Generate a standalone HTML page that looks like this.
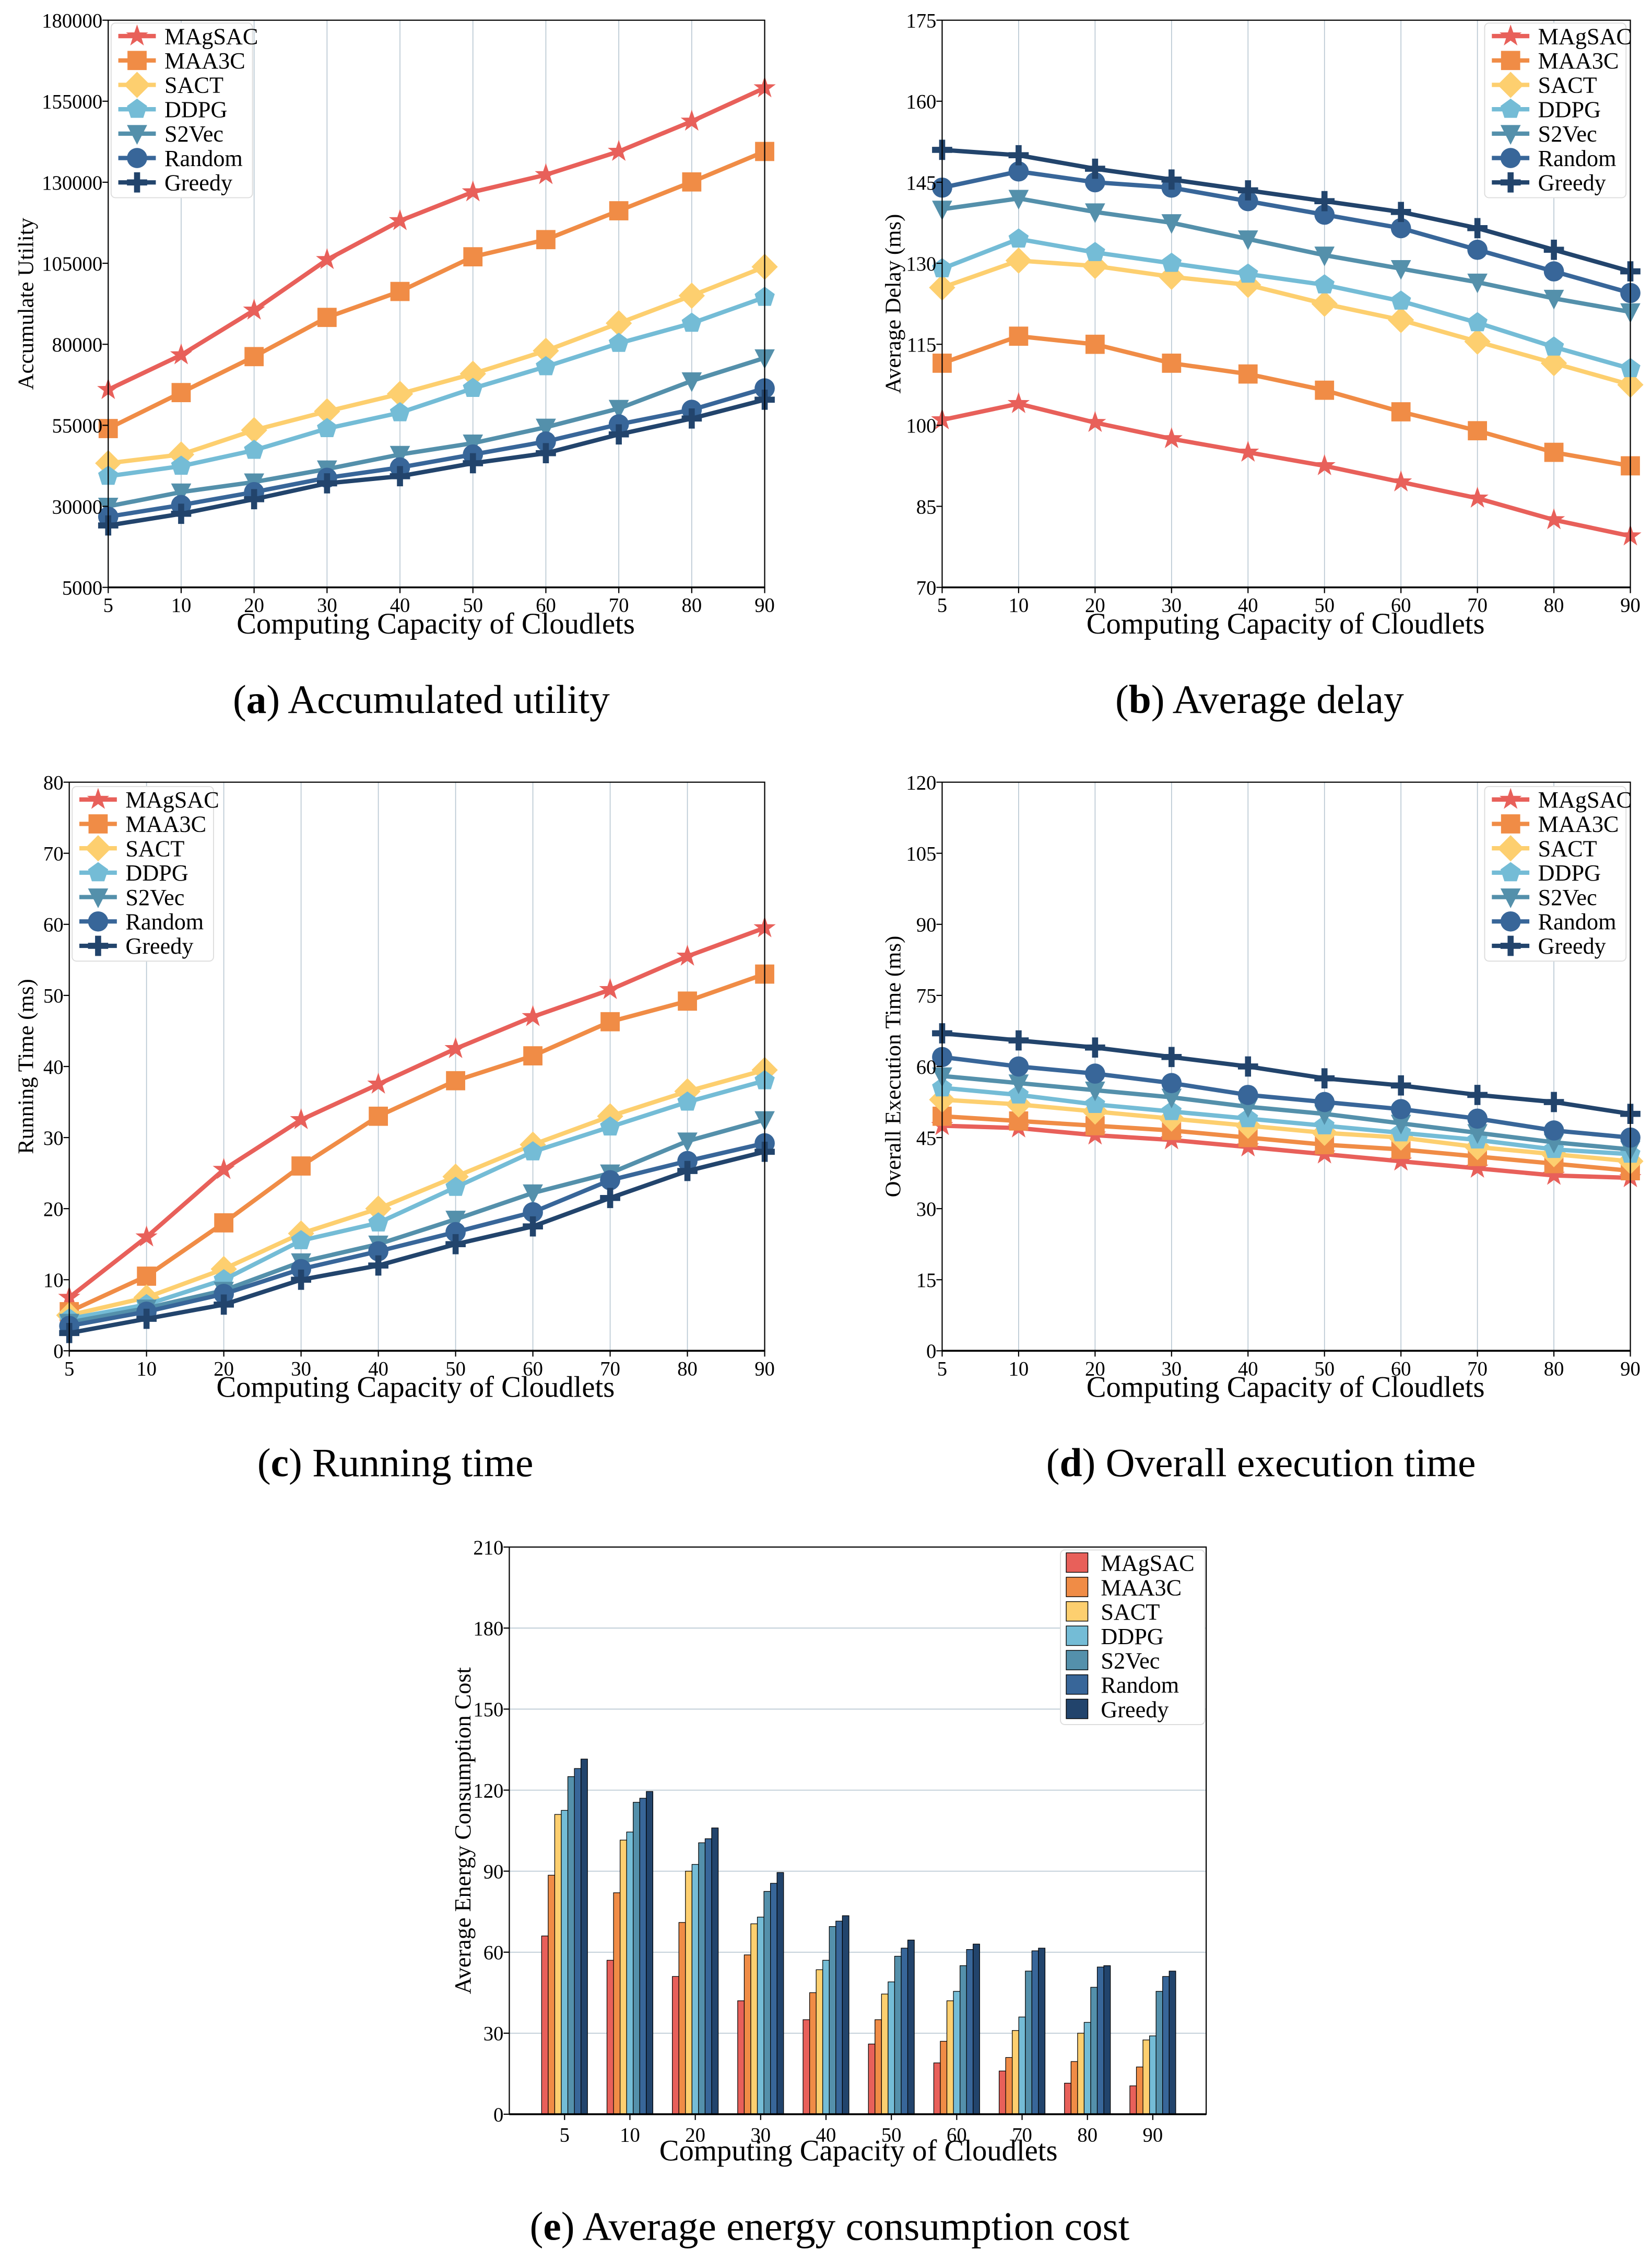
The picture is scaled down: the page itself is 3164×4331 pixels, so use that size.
<!DOCTYPE html>
<html><head><meta charset="utf-8">
<style>
html,body{margin:0;padding:0;background:#fff;}
svg{display:block;}
text{font-family:"Liberation Serif","DejaVu Serif",serif;fill:#000;}
</style></head>
<body>
<svg id="fig" xmlns="http://www.w3.org/2000/svg" width="3164" height="4331" viewBox="0 0 1145 1567.4" preserveAspectRatio="none"></svg>
<script>
// ---- data ----
const capacities = ["5","10","20","30","40","50","60","70","80","90"];
const seriesNames = ["MAgSAC","MAA3C","SACT","DDPG","S2Vec","Random","Greedy"];
const seriesColors = ["#e8605a","#f08c46","#fdcf6f","#74bcd6","#5490ab","#386699","#22446c"];

const utilMAgSAC = [66000,76700,90500,106100,118100,127000,132300,139500,148800,159100];
const utilMAA3C  = [54000,65100,76200,88300,96300,107000,112300,121200,130100,139500];
const utilSACT   = [43300,46000,53500,59300,64700,70900,78000,86500,95000,103900];
const utilDDPG   = [39300,42400,47300,54000,58900,66400,73100,80300,86500,94500];
const utilS2Vec  = [30000,34400,37500,41500,46000,49500,54400,60200,68700,75800];
const utilRandom = [26800,30400,34400,38800,42000,46000,50000,55300,59800,66400];
const utilGreedy = [24100,27700,32200,37100,39300,43300,46400,52200,57100,62900];
const utilTicks = [5000,30000,55000,80000,105000,130000,155000,180000];

const delayMAgSAC = [101,104,100.5,97.5,95,92.5,89.5,86.5,82.5,79.5];
const delayMAA3C  = [111.5,116.5,115,111.5,109.5,106.5,102.5,99,95,92.5];
const delaySACT   = [125.5,130.5,129.5,127.5,126,122.5,119.5,115.5,111.5,107.5];
const delayDDPG   = [129,134.5,132,130,128,126,123,119,114.5,110.5];
const delayS2Vec  = [140,142,139.5,137.5,134.5,131.5,129,126.5,123.5,121];
const delayRandom = [144,147,145,144,141.5,139,136.5,132.5,128.5,124.5];
const delayGreedy = [151,150,147.5,145.5,143.5,141.5,139.5,136.5,132.5,128.5];
const delayTicks = [70,85,100,115,130,145,160,175];

const runMAgSAC = [7.5,16,25.5,32.5,37.5,42.5,47,50.8,55.5,59.5];
const runMAA3C  = [5.5,10.5,18,26,33,38,41.5,46.3,49.2,53];
const runSACT   = [5,7.5,11.5,16.5,20,24.5,29,33,36.5,39.5];
const runDDPG   = [4.5,6.5,10,15.5,18,23,28,31.5,35,38];
const runS2Vec  = [4,6,8.5,12.5,15,18.5,22.2,25,29.5,32.5];
const runRandom = [3.5,5.5,8,11.5,14,16.7,19.5,24,26.7,29.2];
const runGreedy = [2.5,4.5,6.5,10,12,15,17.5,21.5,25.3,28];
const runTicks = [0,10,20,30,40,50,60,70,80];

const execMAgSAC = [47.5,47,45.5,44.5,43,41.5,40,38.5,37,36.5];
const execMAA3C  = [49.5,48.5,47.5,46.5,45,43.5,42.5,41,39.5,38];
const execSACT   = [53,52,50.5,49,47.5,46,45,43,41.5,40];
const execDDPG   = [55.5,54,52,50.5,49,47.5,46,44.5,42.5,41.5];
const execS2Vec  = [58,56.5,55,53.5,51.5,50,48,46,44,42.5];
const execRandom = [62,60,58.5,56.5,54,52.5,51,49,46.5,45];
const execGreedy = [67,65.5,64,62,60,57.5,56,54,52.5,50];
const execTicks = [0,15,30,45,60,75,90,105,120];

const energyMAgSAC = [66,57,51,42,35,26,19,16,11.5,10.5];
const energyMAA3C  = [88.5,82,71,59,45,35,27,21,19.5,17.5];
const energySACT   = [111,101.5,90,70.5,53.5,44.5,42,31,30,27.5];
const energyDDPG   = [112.5,104.5,92.5,73,57,49,45.5,36,34,29];
const energyS2Vec  = [125,115.5,100.5,82.5,69.5,58.5,55,53,47,45.5];
const energyRandom = [128,117,102,85.5,71.5,61.5,61,60.5,54.5,51];
const energyGreedy = [131.5,119.5,106,89.5,73.5,64.5,63,61.5,55,53];
const energyTicks = [0,30,60,90,120,150,180,210];

// ---- helpers ----
const NS = "http://www.w3.org/2000/svg";
const svg = document.getElementById("fig");
function mk(tag, attrs, parent){
  const e = document.createElementNS(NS, tag);
  for (const k in attrs) e.setAttribute(k, attrs[k]);
  (parent||svg).appendChild(e);
  return e;
}
function txt(s, x, y, size, anchor, parent, extra){
  const t = mk("text", Object.assign({x:x, y:y, "font-size":size, "text-anchor":anchor||"middle"}, extra||{}), parent);
  t.textContent = s;
  return t;
}
function marker(g, kind, cx, cy, color, r){
  let e;
  if (kind===0){
    let p=[]; for(let i=0;i<10;i++){const a=-Math.PI/2+i*Math.PI/5;const rr=i%2?r*0.45:r*1.15;p.push((cx+rr*Math.cos(a)).toFixed(2)+","+(cy+rr*Math.sin(a)).toFixed(2));}
    e = mk("polygon",{points:p.join(" "),fill:color},g);
  } else if (kind===1){
    e = mk("rect",{x:cx-r*0.95,y:cy-r*0.95,width:r*1.9,height:r*1.9,fill:color},g);
  } else if (kind===2){
    const d=r*1.3; e = mk("polygon",{points:`${cx},${cy-d} ${cx+d},${cy} ${cx},${cy+d} ${cx-d},${cy}`,fill:color},g);
  } else if (kind===3){
    let p=[]; for(let i=0;i<5;i++){const a=-Math.PI/2+i*2*Math.PI/5;p.push((cx+r*1.05*Math.cos(a)).toFixed(2)+","+(cy+r*1.05*Math.sin(a)).toFixed(2));}
    e = mk("polygon",{points:p.join(" "),fill:color},g);
  } else if (kind===4){
    e = mk("polygon",{points:`${cx-r},${cy-r*0.85} ${cx+r},${cy-r*0.85} ${cx},${cy+r*1.1}`,fill:color},g);
  } else if (kind===5){
    e = mk("circle",{cx:cx,cy:cy,r:r,fill:color},g);
  } else {
    e = mk("path",{d:`M${cx-r} ${cy}H${cx+r}M${cx} ${cy-r}V${cy+r}`,stroke:color,"stroke-width":r*0.6,fill:"none"},g);
  }
  return e;
}

function lineChart(cfg){
  const g = mk("g",{});
  
  
  const {x0,x1,y0,y1,ymin,ymax} = cfg;
  const xs = i => x0 + (x1-x0)*i/(capacities.length-1);
  const ys = v => y1 - (v-ymin)/(ymax-ymin)*(y1-y0);
  capacities.forEach((c,i)=>{
    const l = mk("line",{x1:xs(i),x2:xs(i),y1:y0,y2:y1,stroke:"#b8c7d2","stroke-width":0.6},g);
    
    
  });
  cfg.series.forEach((vals,si)=>{
    const sg = mk("g",{},g);
    
    
    const pts = vals.map((v,i)=>xs(i).toFixed(2)+","+ys(v).toFixed(2)).join(" ");
    mk("polyline",{points:pts,fill:"none",stroke:seriesColors[si],"stroke-width":3},sg);
    vals.forEach((v,i)=>{
      const m = marker(sg, si, xs(i), ys(v), seriesColors[si], 7);
      
      
    });
  });
  const fr = mk("rect",{x:x0,y:y0,width:x1-x0,height:y1-y0,fill:"none",stroke:"#000","stroke-width":0.8},g);
  
  
  mk("line",{x1:x0,x2:x1,y1:y1,y2:y1,stroke:"#000","stroke-width":1.3},g);
  cfg.ticks.forEach(t=>{
    mk("line",{x1:x0-4,x2:x0,y1:ys(t),y2:ys(t),stroke:"#000","stroke-width":0.8},g);
    const tl = txt(String(t), x0-4, ys(t)+5, 14, "end", g);
    
    
  });
  capacities.forEach((c,i)=>{
    mk("line",{x1:xs(i),x2:xs(i),y1:y1,y2:y1+4,stroke:"#000","stroke-width":0.8},g);
    const tl = txt(c, xs(i), y1+17, 14, "middle", g);
    
    
  });
  const xt = txt("Computing Capacity of Cloudlets", cfg.xtx, y1+32, 20.5, "middle", g);
  
  
  const yt = txt(cfg.ylabel, 0, 0, 15.5, "middle", g, {transform:`translate(${cfg.ylx},${(y0+y1)/2}) rotate(-90)`});
  
  
  legend(g, cfg.lx, cfg.ly, false);
  caption(g, cfg.cap, cfg.capText, cfg.capx, cfg.capy);
}

function legend(g, lx, ly, patches){
  const lg = mk("g",{},g);
  
  
  mk("rect",{x:lx,y:ly,width:patches?100:98,height:121,rx:3,fill:"#fff",stroke:"#ddd","stroke-width":0.7},lg);
  seriesNames.forEach((n,i)=>{
    const eg = mk("g",{},lg);
    
    
    const cy = ly+9+i*16.9;
    if (patches){
      mk("rect",{x:lx+4,y:cy-7,width:15,height:13.5,fill:seriesColors[i],stroke:"#000","stroke-width":0.5},eg);
      txt(n, lx+28, cy+5.5, 16, "start", eg);
    } else {
      mk("line",{x1:lx+5,x2:lx+31,y1:cy,y2:cy,stroke:seriesColors[i],"stroke-width":3},eg);
      marker(eg, i, lx+18, cy, seriesColors[i], 7);
      txt(n, lx+37, cy+5.5, 16, "start", eg);
    }
  });
}

function caption(g, letter, rest, cx, cy){
  const t = mk("text",{x:cx,y:cy,"font-size":28,"text-anchor":"middle"},g);
  
  
  const a = mk("tspan",{},t); a.textContent="(";
  const b = mk("tspan",{"font-weight":"bold"},t); b.textContent=letter;
  const c = mk("tspan",{},t); c.textContent=") "+rest;
}

lineChart({name:"chart-accumulated-utility",x0:75,x1:530,y0:14,y1:407,ymin:5000,ymax:180000,ticks:utilTicks,
  series:[utilMAgSAC,utilMAA3C,utilSACT,utilDDPG,utilS2Vec,utilRandom,utilGreedy],xtx:302,
  ylabel:"Accumulate Utility",ylx:23,lx:77,ly:16,cap:"a",capText:"Accumulated utility",capx:292,capy:494});
lineChart({name:"chart-average-delay",x0:653,x1:1130,y0:14,y1:407,ymin:70,ymax:175,ticks:delayTicks,
  series:[delayMAgSAC,delayMAA3C,delaySACT,delayDDPG,delayS2Vec,delayRandom,delayGreedy],xtx:891,
  ylabel:"Average Delay (ms)",ylx:624,lx:1029,ly:16,cap:"b",capText:"Average delay",capx:873,capy:494});
lineChart({name:"chart-running-time",x0:48,x1:530,y0:542,y1:936,ymin:0,ymax:80,ticks:runTicks,
  series:[runMAgSAC,runMAA3C,runSACT,runDDPG,runS2Vec,runRandom,runGreedy],xtx:288,
  ylabel:"Running Time (ms)",ylx:23,lx:50,ly:545,cap:"c",capText:"Running time",capx:274,capy:1023});
lineChart({name:"chart-overall-execution-time",x0:653,x1:1130,y0:542,y1:936,ymin:0,ymax:120,ticks:execTicks,
  series:[execMAgSAC,execMAA3C,execSACT,execDDPG,execS2Vec,execRandom,execGreedy],xtx:891,
  ylabel:"Overall Execution Time (ms)",ylx:624,lx:1029,ly:545,cap:"d",capText:"Overall execution time",capx:874,capy:1023});

(function(){
  const g = mk("g",{});
  
  
  const x0=353,x1=836,y0=1072,y1=1465,ymax=210;
  const cx = i => 391.3 + i*45.3;
  const ys = v => y1 - v/ymax*(y1-y0);
  const bw = 31.8/7;
  energyTicks.forEach(t=>{
    if (t>0){
      const l = mk("line",{x1:x0,x2:x1,y1:ys(t),y2:ys(t),stroke:"#b8c7d2","stroke-width":0.6},g);
      
      
    }
  });
  const series=[energyMAgSAC,energyMAA3C,energySACT,energyDDPG,energyS2Vec,energyRandom,energyGreedy];
  series.forEach((vals,si)=>{
    const sg = mk("g",{},g);
    
    
    vals.forEach((v,i)=>{
      const x = cx(i) - 15.9 + si*bw;
      const r = mk("rect",{x:x,y:ys(v),width:bw,height:y1-ys(v),fill:seriesColors[si],stroke:"#000","stroke-width":0.45},sg);
      
      
    });
  });
  mk("rect",{x:x0,y:y0,width:x1-x0,height:y1-y0,fill:"none",stroke:"#000","stroke-width":0.8},g);
  mk("line",{x1:x0,x2:x1,y1:y1,y2:y1,stroke:"#000","stroke-width":1.3},g);
  energyTicks.forEach(t=>{
    mk("line",{x1:x0-4,x2:x0,y1:ys(t),y2:ys(t),stroke:"#000","stroke-width":0.8},g);
    const tl = txt(String(t), x0-4, ys(t)+5, 14, "end", g);
    
    
  });
  capacities.forEach((c,i)=>{
    mk("line",{x1:cx(i),x2:cx(i),y1:y1,y2:y1+4,stroke:"#000","stroke-width":0.8},g);
    const tl = txt(c, cx(i), y1+19, 14, "middle", g);
    
    
  });
  const xt = txt("Computing Capacity of Cloudlets", 595, 1497, 20.5, "middle", g);
  
  
  const yt = txt("Average Energy Consumption Cost", 0, 0, 16, "middle", g, {transform:`translate(326,${(y0+y1)/2}) rotate(-90)`});
  
  
  legend(g, 735, 1074, true);
  caption(g, "e", "Average energy consumption cost", 575, 1552);
})();
</script>
</body></html>
